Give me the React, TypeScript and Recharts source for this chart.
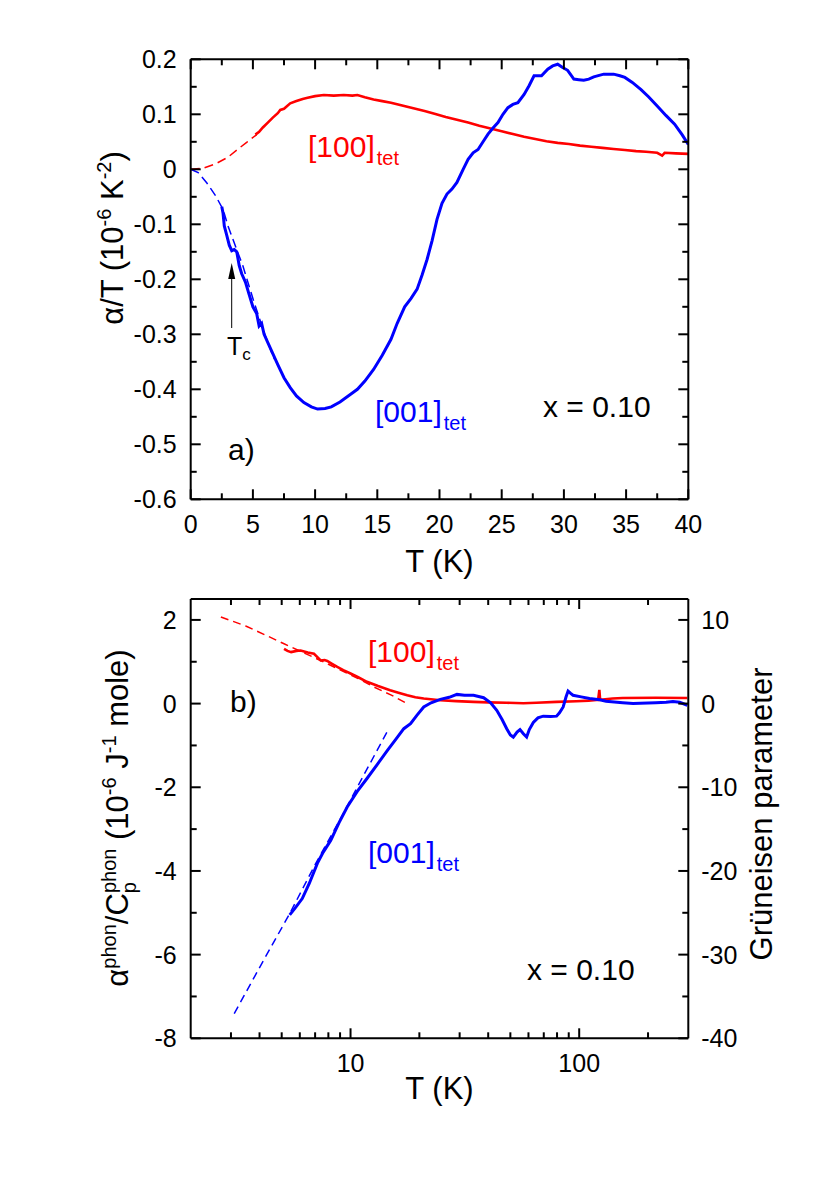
import React from 'react';
import { LineChart, Line, XAxis, YAxis } from 'recharts';

const FONT = '"Liberation Sans", Arial, Helvetica, sans-serif';
const RED = '#ff0000';
const BLUE = '#0000ff';

// ---- panel a): alpha/T vs T, linear axes
const aMajorX = [0, 5, 10, 15, 20, 25, 30, 35, 40];
const aMinorX = [2.5, 7.5, 12.5, 17.5, 22.5, 27.5, 32.5, 37.5];
const aMajorY = [-0.6, -0.5, -0.4, -0.3, -0.2, -0.1, 0, 0.1, 0.2];
const aMinorY = [-0.55, -0.45, -0.35, -0.25, -0.15, -0.05, 0.05, 0.15];

const a100FitT = [0, 1, 2, 3, 3.7, 4.5, 5.3];
const a100FitV = [0, 0.002, 0.01, 0.022, 0.035, 0.049, 0.063];
const a100T = [5.2, 5.5, 5.8, 6.2, 6.6, 7.0, 7.2, 7.5, 8.0, 8.5, 9.0, 9.4, 10.0, 10.7, 11.5, 12.3, 13.0, 13.4, 14.0, 14.7, 15.4, 16.1, 17.0, 17.9, 18.8, 19.6, 20.5, 21.4, 22.3, 23.2, 24.1, 25.0, 25.9, 26.8, 27.7, 28.6, 29.5, 30.4, 31.3, 32.2, 33.1, 34.0, 34.9, 35.8, 36.6, 37.5, 37.9, 38.1, 39.0, 40.0];
const a100V = [0.063, 0.068, 0.076, 0.085, 0.094, 0.102, 0.108, 0.11, 0.12, 0.124, 0.128, 0.13, 0.133, 0.135, 0.134, 0.135, 0.134, 0.135, 0.131, 0.127, 0.124, 0.121, 0.116, 0.111, 0.106, 0.101, 0.095, 0.09, 0.085, 0.079, 0.074, 0.069, 0.064, 0.059, 0.055, 0.051, 0.048, 0.046, 0.043, 0.041, 0.039, 0.037, 0.035, 0.033, 0.032, 0.03, 0.025, 0.03, 0.029, 0.028];
const a001FitT = [0, 0.6, 1.3, 2, 2.6, 3.0, 3.6, 4.2, 5.0, 5.8, 6.7];
const a001FitV = [0, -0.006, -0.025, -0.048, -0.073, -0.103, -0.14, -0.176, -0.235, -0.29, -0.345];
const a001T = [2.5, 2.6, 2.7, 2.9, 3.1, 3.3, 3.5, 3.7, 3.9, 4.1, 4.4, 4.7, 5.0, 5.3, 5.5, 5.7, 5.9, 6.2, 6.5, 7.0, 7.5, 8.0, 8.5, 9.1, 9.7, 10.2, 10.8, 11.3, 12.0, 12.8, 13.4, 14.0, 14.7, 15.4, 16.1, 16.6, 17.2, 17.7, 18.2, 18.6, 19.0, 19.4, 19.8, 20.2, 20.6, 21.0, 21.4, 21.9, 22.3, 22.7, 23.1, 23.5, 23.9, 24.3, 24.7, 25.1, 25.5, 25.9, 26.3, 26.8, 27.2, 27.6, 28.2, 28.7, 29.1, 29.5, 29.9, 30.3, 30.8, 31.2, 31.6, 32.0, 32.4, 33.2, 34.0, 34.5, 34.9, 35.5, 36.2, 36.8, 37.5, 38.2, 38.9, 39.5, 40.0];
const a001V = [-0.068, -0.08, -0.103, -0.12, -0.138, -0.148, -0.146, -0.15, -0.175, -0.19, -0.205, -0.228, -0.25, -0.262, -0.285, -0.28, -0.3, -0.315, -0.33, -0.355, -0.379, -0.397, -0.412, -0.424, -0.432, -0.436, -0.435, -0.432, -0.423, -0.41, -0.4, -0.385, -0.364, -0.338, -0.309, -0.28, -0.25, -0.235, -0.218, -0.192, -0.164, -0.13, -0.091, -0.062, -0.045, -0.036, -0.024, 0.0, 0.018, 0.03, 0.036, 0.05, 0.064, 0.075, 0.085, 0.1, 0.112, 0.118, 0.121, 0.136, 0.152, 0.17, 0.17, 0.182, 0.188, 0.191, 0.185, 0.18, 0.164, 0.163, 0.162, 0.164, 0.168, 0.173, 0.173, 0.17, 0.167, 0.158, 0.145, 0.132, 0.115, 0.098, 0.082, 0.063, 0.045];

// ---- panel b): alpha_phon / Cp_phon vs T, log T axis
const bMajorX = [10, 100];
const bMinorX = [3, 4, 5, 6, 7, 8, 9, 20, 30, 40, 50, 60, 70, 80, 90, 200];
const bMajorY = [-8, -6, -4, -2, 0, 2];
const bMinorY = [-7, -5, -3, -1, 1];
const bMajorR = [-40, -30, -20, -10, 0, 10];
const bMinorR = [-35, -25, -15, -5, 5];

const b100FitT = [2.71, 3.5, 4.2, 5.12, 6.5, 7.8, 9.04, 10.8, 12.6, 15.0, 17.4];
const b100FitV = [2.07, 1.85, 1.65, 1.43, 1.17, 0.97, 0.8, 0.6, 0.4, 0.21, 0.02];
const b100T = [5.12, 5.3, 5.5, 5.8, 6.05, 6.5, 6.92, 7.2, 7.4, 7.7, 7.91, 8.3, 8.75, 9.3, 10, 10.8, 11.8, 13.2, 14.9, 16.2, 17.7, 19.2, 20.9, 24.7, 29, 34.5, 40, 48.2, 57, 65, 79.6, 97.3, 110, 121, 122.5, 123.5, 140, 155, 216, 297];
const b100V = [1.31, 1.26, 1.23, 1.26, 1.27, 1.22, 1.19, 1.1, 1.03, 1.04, 1.02, 0.95, 0.875, 0.8, 0.72, 0.63, 0.52, 0.42, 0.32, 0.26, 0.2, 0.15, 0.12, 0.08, 0.06, 0.04, 0.03, 0.02, 0.01, 0.02, 0.04, 0.055, 0.07, 0.09, 0.33, 0.09, 0.12, 0.135, 0.14, 0.135];
const b001FitT = [3.1, 4.2, 5.42, 7.0, 8.96, 11.5, 14.7];
const b001FitV = [-7.41, -6.1, -5.02, -3.85, -2.79, -1.68, -0.6];
const b001T = [5.42, 5.7, 6.15, 6.6, 7.16, 7.6, 8.19, 8.9, 9.67, 10.7, 11.8, 13.1, 14.5, 15.8, 17.1, 18.3, 19.5, 20.9, 22.5, 24.7, 27, 29.2, 31.5, 34.5, 38.2, 41, 43.6, 46, 48.2, 50, 51.5, 53.5, 55.1, 57, 58.9, 60.5, 63, 66, 69.6, 75, 79.6, 82, 85.1, 87.5, 89.4, 91.5, 94, 102, 111, 123, 131, 155, 172, 185, 216, 240, 257, 275, 297];
const b001V = [-5.05, -4.9, -4.66, -4.3, -3.82, -3.55, -3.27, -2.85, -2.47, -2.1, -1.79, -1.45, -1.12, -0.85, -0.6, -0.48, -0.28, -0.08, 0.02, 0.1, 0.15, 0.22, 0.2, 0.2, 0.14, 0.02, -0.16, -0.38, -0.6, -0.75, -0.8, -0.68, -0.62, -0.72, -0.8, -0.62, -0.45, -0.34, -0.3, -0.31, -0.3, -0.22, -0.08, 0.15, 0.3, 0.25, 0.2, 0.16, 0.12, 0.09, 0.055, 0.02, 0.0, 0.01, 0.02, 0.03, 0.05, 0.03, -0.04];

const zip = (t: number[], v: number[]) => t.map((x, i) => ({ t: x, v: v[i] }));

const fmtA = (v: number) => (Math.abs(v) < 1e-9 ? '0' : v.toFixed(1));
const fmtInt = (v: number) => String(Math.round(v));

// inward tick marks, long for majors, short for minors; labels outside
const AxisTick = (props: any) => {
  const { x, y, payload, side, majors, labels, fmt } = props;
  const v = payload.value;
  const major = majors.some((m: number) => Math.abs(m - v) < 1e-6);
  const len = major ? 10 : 6;
  const txt = labels && major ? fmt(v) : null;
  const ts = { fontFamily: FONT, fontSize: 25, fill: '#000' };
  let line = null;
  let label = null;
  if (side === 'left') {
    line = <line x1={x} y1={y} x2={x + len} y2={y} />;
    if (txt) label = <text x={x - 14} y={y + 9} textAnchor="end" {...ts}>{txt}</text>;
  } else if (side === 'right') {
    line = <line x1={x} y1={y} x2={x - len} y2={y} />;
    if (txt) label = <text x={x + 13} y={y + 9} textAnchor="start" {...ts}>{txt}</text>;
  } else if (side === 'bottom') {
    line = <line x1={x} y1={y} x2={x} y2={y - len} />;
    if (txt) label = <text x={x} y={y + 34} textAnchor="middle" {...ts}>{txt}</text>;
  } else {
    line = <line x1={x} y1={y} x2={x} y2={y + len} />;
  }
  return (
    <g stroke="#000" strokeWidth={2}>
      {line}
      <g stroke="none">{label}</g>
    </g>
  );
};

const frame = { stroke: '#000', strokeWidth: 2 };

const PanelA = () => (
  <LineChart width={830} height={590} margin={{ top: 39.3, bottom: 0.7, left: 90.7, right: 121.7 }}>
    <XAxis xAxisId={0} dataKey="t" type="number" domain={[0, 40]} allowDataOverflow height={90}
      ticks={[...aMajorX, ...aMinorX]} interval={0} tickSize={0} tickMargin={0} tickLine={false} axisLine={frame}
      tick={<AxisTick side="bottom" majors={aMajorX} labels fmt={fmtInt} />} />
    <XAxis xAxisId="top" orientation="top" dataKey="t" type="number" domain={[0, 40]} allowDataOverflow height={20}
      ticks={[...aMajorX, ...aMinorX]} interval={0} tickSize={0} tickMargin={0} tickLine={false} axisLine={frame}
      tick={<AxisTick side="top" majors={aMajorX} labels={false} />} />
    <YAxis yAxisId={0} type="number" domain={[-0.6, 0.2]} allowDataOverflow width={100}
      ticks={[...aMajorY, ...aMinorY]} interval={0} tickSize={0} tickMargin={0} tickLine={false} axisLine={frame}
      tick={<AxisTick side="left" majors={aMajorY} labels fmt={fmtA} />} />
    <YAxis yAxisId="right" orientation="right" type="number" domain={[-0.6, 0.2]} allowDataOverflow width={20}
      ticks={[...aMajorY, ...aMinorY]} interval={0} tickSize={0} tickMargin={0} tickLine={false} axisLine={frame}
      tick={<AxisTick side="right" majors={aMajorY} labels={false} />} />
    <Line data={zip(a100FitT, a100FitV)} dataKey="v" type="linear" stroke={RED} strokeWidth={1.5} strokeDasharray="9 5" dot={false} isAnimationActive={false} />
    <Line data={zip(a001FitT, a001FitV)} dataKey="v" type="linear" stroke={BLUE} strokeWidth={1.5} strokeDasharray="9 5" dot={false} isAnimationActive={false} />
    <Line data={zip(a100T, a100V)} dataKey="v" type="linear" stroke={RED} strokeWidth={2.6} dot={false} isAnimationActive={false} />
    <Line data={zip(a001T, a001V)} dataKey="v" type="linear" stroke={BLUE} strokeWidth={3} dot={false} isAnimationActive={false} />
  </LineChart>
);

const PanelB = () => (
  <LineChart width={830} height={628} margin={{ top: 19, bottom: 59.7, left: 90.7, right: 81.7 }}>
    <XAxis xAxisId={0} dataKey="t" type="number" scale="log" domain={[2, 300]} allowDataOverflow height={90}
      ticks={[...bMajorX, ...bMinorX]} interval={0} tickSize={0} tickMargin={0} tickLine={false} axisLine={frame}
      tick={<AxisTick side="bottom" majors={bMajorX} labels fmt={fmtInt} />} />
    <XAxis xAxisId="top" orientation="top" dataKey="t" type="number" scale="log" domain={[2, 300]} allowDataOverflow height={20}
      ticks={[...bMajorX, ...bMinorX]} interval={0} tickSize={0} tickMargin={0} tickLine={false} axisLine={frame}
      tick={<AxisTick side="top" majors={bMajorX} labels={false} />} />
    <YAxis yAxisId={0} type="number" domain={[-8, 2.5]} allowDataOverflow width={100}
      ticks={[...bMajorY, ...bMinorY]} interval={0} tickSize={0} tickMargin={0} tickLine={false} axisLine={frame}
      tick={<AxisTick side="left" majors={bMajorY} labels fmt={fmtInt} />} />
    <YAxis yAxisId="right" orientation="right" type="number" domain={[-40, 12.5]} allowDataOverflow width={60}
      ticks={[...bMajorR, ...bMinorR]} interval={0} tickSize={0} tickMargin={0} tickLine={false} axisLine={frame}
      tick={<AxisTick side="right" majors={bMajorR} labels fmt={fmtInt} />} />
    <Line data={zip(b100FitT, b100FitV)} dataKey="v" type="linear" stroke={RED} strokeWidth={1.5} strokeDasharray="8 5" dot={false} isAnimationActive={false} />
    <Line data={zip(b001FitT, b001FitV)} dataKey="v" type="linear" stroke={BLUE} strokeWidth={1.5} strokeDasharray="8 5" dot={false} isAnimationActive={false} />
    <Line data={zip(b100T, b100V)} dataKey="v" type="linear" stroke={RED} strokeWidth={2.6} dot={false} isAnimationActive={false} />
    <Line data={zip(b001T, b001V)} dataKey="v" type="linear" stroke={BLUE} strokeWidth={3} dot={false} isAnimationActive={false} />
  </LineChart>
);

const Tag = ({ x, y, main, color }: { x: number; y: number; main: string; color: string }) => (
  <text x={x} y={y} fill={color} fontSize={30}>
    {main}
    <tspan fontSize={20} dy={8} dx={2}>tet</tspan>
  </text>
);

export default function App() {
  return (
    <div style={{ position: 'absolute', left: 0, top: 0, width: 830, height: 1188, background: '#fff' }}>
      <div style={{ position: 'absolute', left: 0, top: 0 }}>
        <PanelA />
      </div>
      <div style={{ position: 'absolute', left: 0, top: 560 }}>
        <PanelB />
      </div>
      <svg width={830} height={1188} style={{ position: 'absolute', left: 0, top: 0, pointerEvents: 'none' }} fontFamily={FONT}>
        {/* panel a) titles */}
        <text transform="translate(123,238) rotate(-90)" textAnchor="middle" fontSize={31} fill="#000">
          α/T (10<tspan fontSize={20} dy={-12}>-6</tspan>
          <tspan dy={12}> K</tspan>
          <tspan fontSize={20} dy={-12}>-2</tspan>
          <tspan dy={12}>)</tspan>
        </text>
        <text x={439.5} y={572} textAnchor="middle" fontSize={31} fill="#000">T (K)</text>
        <Tag x={308} y={157} main="[100]" color={RED} />
        <Tag x={375} y={422} main="[001]" color={BLUE} />
        <text x={543} y={417} fontSize={30} fill="#000">x = 0.10</text>
        <text x={228} y={460} fontSize={30} fill="#000">a)</text>
        <line x1={231.7} y1={328} x2={231.7} y2={277} stroke="#000" strokeWidth={1} />
        <polygon points="231.7,263 228.2,279 235.2,279" fill="#000" />
        <text x={227} y={355} fontSize={25} fill="#000">
          T<tspan fontSize={17} dy={5}>c</tspan>
        </text>

        {/* panel b) titles */}
        <text transform="translate(128,818) rotate(-90)" textAnchor="middle" fontSize={31} fill="#000">
          α<tspan fontSize={20} dy={-12}>phon</tspan>
          <tspan dy={12}>/C</tspan>
          <tspan fontSize={20} dy={8}>p</tspan>
          <tspan fontSize={20} dx={-11} dy={-20}>phon</tspan>
          <tspan dy={12}> (10</tspan>
          <tspan fontSize={20} dy={-12}>-6</tspan>
          <tspan dy={12}> J</tspan>
          <tspan fontSize={20} dy={-12}>-1</tspan>
          <tspan dy={12}> mole)</tspan>
        </text>
        <text transform="translate(772,814) rotate(-90)" textAnchor="middle" fontSize={31} fill="#000">Grüneisen parameter</text>
        <text x={439.5} y={1099} textAnchor="middle" fontSize={31} fill="#000">T (K)</text>
        <Tag x={368} y={662} main="[100]" color={RED} />
        <Tag x={368} y={863} main="[001]" color={BLUE} />
        <text x={527} y={980} fontSize={30} fill="#000">x = 0.10</text>
        <text x={230} y={712} fontSize={30} fill="#000">b)</text>
      </svg>
    </div>
  );
}
